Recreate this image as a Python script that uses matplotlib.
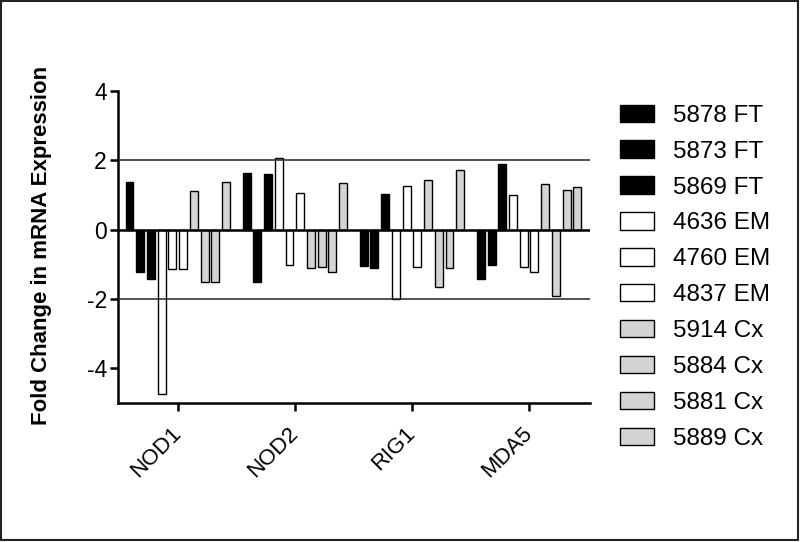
import matplotlib.pyplot as plt
import numpy as np
from matplotlib.patches import Rectangle

plt.rcParams['font.family'] = ['Liberation Sans', 'DejaVu Sans']

# genes on the x axis
genes = ['NOD1', 'NOD2', 'RIG1', 'MDA5']

# samples (legend order)
samples = ['5878 FT', '5873 FT', '5869 FT',
           '4636 EM', '4760 EM', '4837 EM',
           '5914 Cx', '5884 Cx', '5881 Cx', '5889 Cx']

# fold change per sample, one value per gene (NOD1, NOD2, RIG1, MDA5)
s5878_ft = [1.37, 1.65, -1.06, -1.41]
s5873_ft = [-1.22, -1.51, -1.10, -1.02]
s5869_ft = [-1.41, 1.60, 1.04, 1.90]
s4636_em = [-4.74, 2.06, -2.00, 1.00]
s4760_em = [-1.13, -1.03, 1.25, -1.09]
s4837_em = [-1.13, 1.07, -1.07, -1.21]
s5914_cx = [1.11, -1.10, 1.44, 1.32]
s5884_cx = [-1.50, -1.08, -1.66, -1.90]
s5881_cx = [-1.50, -1.22, -1.11, 1.14]
s5889_cx = [1.38, 1.36, 1.72, 1.22]

values = [s5878_ft, s5873_ft, s5869_ft, s4636_em, s4760_em, s4837_em,
          s5914_cx, s5884_cx, s5881_cx, s5889_cx]
fills = ['black'] * 3 + ['white'] * 3 + ['#d4d4d4'] * 4

fig = plt.figure(figsize=(8, 5.42), dpi=100)
ax = fig.add_axes([0.1475, 0.2565, 0.59, 0.5755])

x = np.arange(len(genes))
pitch = 0.0915
width = 0.068
for j, (vals, c) in enumerate(zip(values, fills)):
    ax.bar(x + (j - 4.5) * pitch, vals, width, color=c, edgecolor='black',
           linewidth=1.0, label=samples[j], zorder=2)

# reference lines
ax.axhline(0, color='black', linewidth=1.8, zorder=3)
ax.axhline(2, color='#222222', linewidth=1.1, zorder=3)
ax.axhline(-2, color='#222222', linewidth=1.1, zorder=3)

ax.set_xlim(-0.51, 3.52)
ax.set_ylim(-5, 4)
ax.set_yticks([-4, -2, 0, 2, 4])
ax.set_yticklabels(['-4', '-2', '0', '2', '4'], fontsize=16.5)
ax.set_xticks(x)
ax.set_xticklabels(genes, rotation=45, ha='right', va='center',
                   rotation_mode='anchor', fontsize=16)
ax.tick_params(width=1.8, length=6, direction='out')
ax.tick_params(axis='y', pad=2)
ax.tick_params(axis='x', pad=14)

for side in ['top', 'right']:
    ax.spines[side].set_visible(False)
for side in ['left', 'bottom']:
    ax.spines[side].set_linewidth(1.8)

ax.set_ylabel('Fold Change in mRNA Expression', fontsize=16,
              fontweight='bold')
ax.yaxis.set_label_coords(-0.139, 0.505)

ax.legend(loc='upper left', bbox_to_anchor=(0.775, 0.807),
          bbox_transform=fig.transFigure, frameon=False, fontsize=17.5,
          handlelength=1.4, handleheight=0.72, handletextpad=0.78,
          labelspacing=0.565, borderpad=0, borderaxespad=0)

# thin frame around the whole picture
fig.patches.append(Rectangle((0.001, 0.003), 0.996, 0.996,
                             transform=fig.transFigure, fill=False,
                             edgecolor='#222222', linewidth=1.5))

plt.savefig('out.png', dpi=100)
